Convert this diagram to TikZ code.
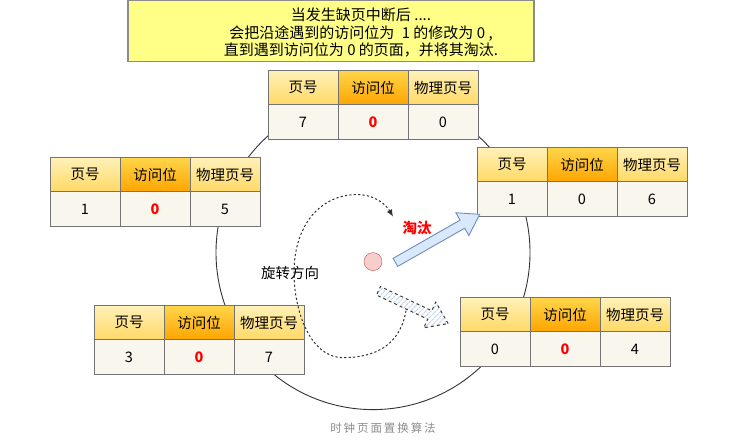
\documentclass[tikz,border=0pt]{standalone}
\usepackage{fontspec}
\setmainfont{Noto Sans CJK SC}
\usetikzlibrary{shapes.arrows,patterns.meta,arrows.meta}
\definecolor{NoteYellow}{HTML}{FFFF88}
\definecolor{HeadLight}{HTML}{FFF1B8}
\definecolor{HeadDark}{HTML}{FFD966}
\definecolor{BitLight}{HTML}{FFD54A}
\definecolor{BitDark}{HTML}{FFA500}
\definecolor{CellBack}{HTML}{F9F7ED}
\definecolor{ArrowBlue}{HTML}{DAE8FC}
\definecolor{ArrowLine}{HTML}{6C8EBF}
\definecolor{DotPink}{HTML}{F8CECC}
\definecolor{DotRed}{HTML}{B85450}

\begin{document}
\begin{tikzpicture}[
  x=1pt,y=-1pt,
  font=\fontsize{14.5}{17}\selectfont,
  >=Latex,
  cell/.style={draw=black!55,line width=0.9pt,minimum width=70,inner sep=0pt},
  headcell/.style={cell,minimum height=34,top color=HeadLight,bottom color=HeadDark},
  bitcell/.style={cell,minimum height=34,top color=BitLight,bottom color=BitDark},
  valcell/.style={cell,minimum height=35,fill=CellBack},
  hot/.style={text=red,font=\fontsize{14.5}{17}\selectfont\bfseries},
  plain/.style={text=black},
  notebox/.style={draw=black!45,line width=1.2pt,fill=NoteYellow,minimum width=406,minimum height=61,inner sep=0pt},
  dial/.style={circle,draw=black!80,line width=0.9pt,minimum size=314,inner sep=0pt},
  spin/.style={draw=black!80,line width=1pt,dash pattern=on 2.2pt off 2.2pt,-{Latex[length=7pt,width=6pt]}},
  evictarrow/.style={single arrow,draw=ArrowLine,fill=ArrowBlue,line width=0.9pt,inner xsep=0pt,inner ysep=4.2pt,
    single arrow head extend=8.5pt,single arrow tip angle=67,minimum height=97},
  nextarrow/.style={single arrow,draw=black!75,dashed,pattern={Lines[angle=45,distance=3.6pt,line width=0.9pt]},
    pattern color=ArrowLine!40,line width=1pt,inner xsep=0pt,inner ysep=4.2pt,single arrow head extend=9.5pt,
    single arrow tip angle=70,minimum height=77}
]

% clock face
\node[dial] (clock) at (373,252) {};
\node[circle,draw=DotRed,fill=DotPink,minimum size=18,inner sep=0pt] (hand) at (373,261) {};

% note on top
\node[notebox] (note) at (331,30.5) {};
\node[align=center,font=\fontsize{15}{17.5}\selectfont] (notetext) at (361,32) {当发生缺页中断后 ....\\会把沿途遇到的访问位为 \;1 的修改为 0 ,\\直到遇到访问位为 0 的页面，并将其淘汰.};

% page entries round the clock
\foreach \nm/\lx/\ty/\pg/\bt/\fr/\bc in {top/268/70/7/0/0/hot, left/50/157/1/0/5/hot, right/477/147/1/0/6/plain,
    lowl/94/305/3/0/7/hot, lowr/460/297/0/0/4/hot} {
  \node[headcell] (\nm-h1) at ({\lx+35},{\ty+17}) {页号};
  \node[bitcell] (\nm-h2) at ({\lx+105},{\ty+17}) {访问位};
  \node[headcell] (\nm-h3) at ({\lx+175},{\ty+17}) {物理页号};
  \node[valcell] (\nm-v1) at ({\lx+35},{\ty+51.5}) {\pg};
  \node[valcell,\bc] (\nm-v2) at ({\lx+105},{\ty+51.5}) {\bt};
  \node[valcell] (\nm-v3) at ({\lx+175},{\ty+51.5}) {\fr};
}

% turning direction
\coordinate (spinstart) at (406,310);
\coordinate (spinend) at (393,216);
\draw[spin] (spinstart) .. controls (400,345) and (375,357) .. (343,357)
  .. controls (310,357) and (294,310) .. (294,272)
  .. controls (294,225) and (320,194) .. (357,194)
  .. controls (375,194) and (386,204) .. (spinend);
\node (turn) at (290,272) {旋转方向};
\node[hot] (out) at (417,227) {淘汰};

% hand arrows
\node[evictarrow,rotate=29.7,anchor=tail] (evict) at (395,262) {};
\node[nextarrow,rotate=-25.2,anchor=tail] (next) at (378,290) {};

\node[text=black!45,font=\fontsize{11.5}{14}\selectfont] (caption) at (383,428) {时\,钟\,页\,面\,置\,换\,算\,法};

\useasboundingbox (0,0) rectangle (751,441);
\end{tikzpicture}
\end{document}
